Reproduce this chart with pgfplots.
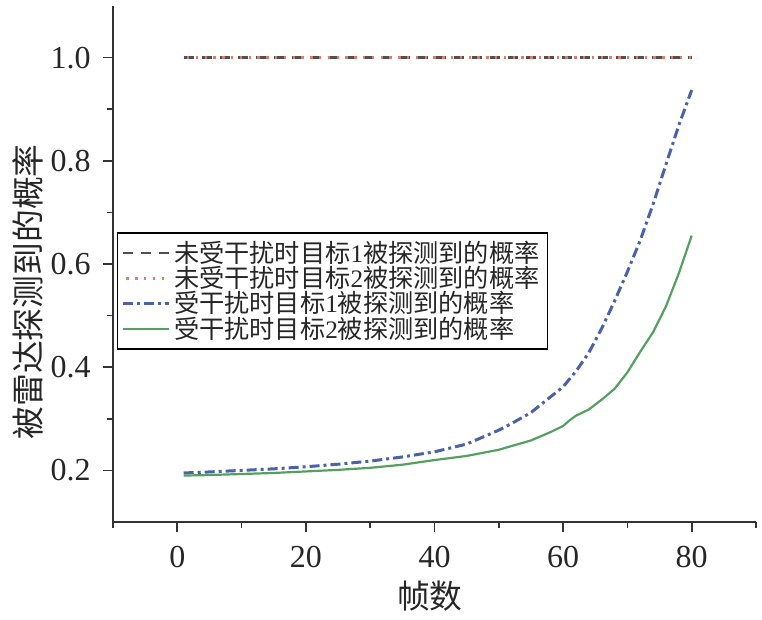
\documentclass[border=0pt]{standalone}
\usepackage{pgfplots}
\pgfplotsset{compat=1.18}
\usepackage{fontspec}
\setmainfont{Liberation Serif}
\newfontfamily\cjk{Noto Sans CJK SC}
\definecolor{cgray}{HTML}{505050}
\definecolor{cred}{HTML}{E07A6A}
\definecolor{cblue}{HTML}{4A62A8}
\definecolor{cgreen}{HTML}{55A060}
\definecolor{caxis}{HTML}{333333}
\begin{document}
\begin{tikzpicture}
\begin{axis}[
  name=ax,
  scale only axis,
  width=321.5pt, height=258pt,
  axis lines*=left,
  axis line style={caxis, line width=1pt},
  xmin=-10, xmax=90, ymin=0.1, ymax=1.1,
  xtick={0,20,40,60,80},
  minor xtick={-10,10,30,50,70,90},
  ytick={0.2,0.4,0.6,0.8,1.0},
  minor ytick={0.3,0.5,0.7,0.9},
  tick align=outside,
  major tick length=5pt, minor tick length=3pt,
  tick style={caxis, line width=0.8pt},
  /pgf/number format/assume math mode=true,
  yticklabel style={/pgf/number format/fixed, /pgf/number format/fixed zerofill, /pgf/number format/precision=1},
  ticklabel style={font=\fontsize{16}{17}\selectfont, text=black!85},
  xticklabel style={anchor=north, inner sep=0pt, yshift=-7pt},
  yticklabel style={anchor=east, inner sep=0pt, xshift=-6pt},
  xlabel={\cjk 帧数},
  ylabel={\cjk 被雷达探测到的概率},
  label style={font=\fontsize{16.4}{17}\selectfont, text=black!85},
  xlabel style={at={(rel axis cs:0.493,0)}, anchor=center, yshift=-37pt},
  ylabel style={at={(rel axis cs:0,0.446)}, anchor=center, yshift=42.5pt},
  legend style={at={(rel axis cs:0.006,0.562)}, anchor=north west,
    draw=black, line width=0.8pt, inner sep=2pt, row sep=-3.5pt,
    font=\fontsize{12.6}{13}\selectfont, text=black!85},
  legend cell align=left,
  legend image code/.code={\draw[#1] (0cm,0cm) -- (0.8cm,0cm);},
]
\addplot[cgray, line width=1.3pt, dash pattern=on 5pt off 4pt] coordinates {(1,1) (80,1)};
\addlegendentry{{\cjk 未受干扰时目标}1{\cjk 被探测到的概率}}
\addplot[cred, line width=1.3pt, dash pattern=on 1.2pt off 3.2pt, dash phase=-6pt] coordinates {(1,1) (80,1)};
\addlegendentry{{\cjk 未受干扰时目标}2{\cjk 被探测到的概率}}
\addplot[cblue, line width=1.5pt, dash pattern=on 5pt off 2pt on 1.5pt off 2pt] coordinates {
(1,0.195) (5,0.197) (10,0.200) (15,0.203) (20,0.207) (25,0.212) (30,0.218)
(35,0.226) (40,0.236) (45,0.251) (50,0.278) (52,0.291) (55,0.312) (58,0.342)
(60,0.362) (62,0.392) (64,0.428) (66,0.475) (68,0.528) (70,0.585) (72,0.646)
(74,0.716) (76,0.793) (78,0.869) (80,0.937)};
\addlegendentry{{\cjk 受干扰时目标}1{\cjk 被探测到的概率}}
\addplot[cgreen, line width=1.1pt] coordinates {
(1,0.190) (5,0.191) (10,0.193) (15,0.195) (20,0.198) (25,0.201) (30,0.205)
(35,0.211) (40,0.220) (45,0.228) (50,0.240) (55,0.258) (58,0.274) (60,0.286)
(61,0.297) (62,0.306) (64,0.318) (66,0.337) (68,0.358) (70,0.390) (72,0.430)
(74,0.468) (76,0.518) (78,0.582) (80,0.655)};
\addlegendentry{{\cjk 受干扰时目标}2{\cjk 被探测到的概率}}
\end{axis}
\pgfresetboundingbox
\path ([xshift=-56.5pt,yshift=-49pt]ax.south west) rectangle ([xshift=3pt,yshift=3pt]ax.north east);
\end{tikzpicture}
\end{document}
